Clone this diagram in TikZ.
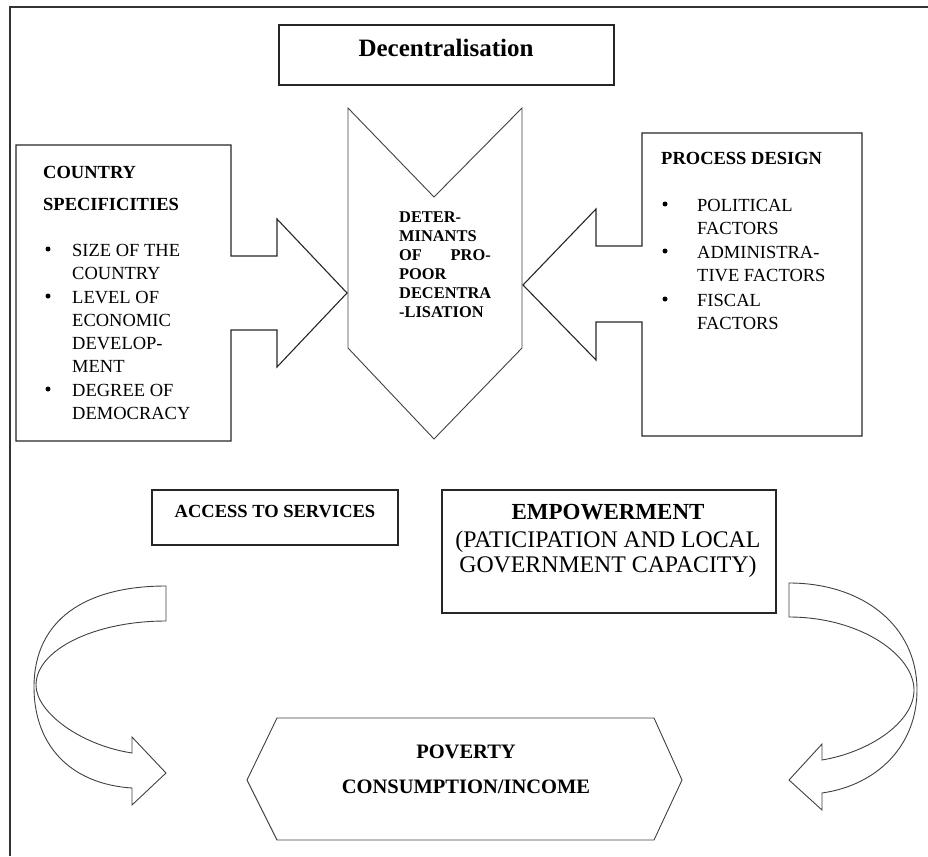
\documentclass[tikz,border=0pt]{standalone}
\usepackage{fontspec}
\setmainfont{Liberation Serif}
\begin{document}
\begin{tikzpicture}[x=1pt,y=-1pt,
  shape line/.style={draw=black!85,line width=1.1pt,line join=miter},
  thin line/.style={draw=black!75,line width=0.9pt},
  txt/.style={inner sep=0pt,anchor=base west},
  ctxt/.style={inner sep=0pt,anchor=base},
  listfont/.style={font=\fontsize{18.5}{23}\selectfont},
  headfont/.style={font=\fontsize{18.5}{23}\selectfont\bfseries},
  midfont/.style={font=\fontsize{16.4}{19}\selectfont\bfseries},
  dot/.style={circle,fill=black,inner sep=0pt,minimum size=5pt}
]
\useasboundingbox (0,0) rectangle (928,856);

% outer frame (top and left edges)
\draw[draw=black!80,line width=1.8pt] (10,856) -- (10,7) -- (928,7);

% title box
\draw[shape line] (279,25) rectangle (614,85);
\node[ctxt,font=\fontsize{25}{30}\selectfont\bfseries] (title) at (446,57) {Decentralisation};

% central downward chevron
\draw[thin line] (348,108) -- (434,197) -- (522,108) -- (522,348) -- (434,439) -- (348,348) -- cycle;
\node[txt,midfont] (m1) at (399,222) {DETER-};
\node[txt,midfont] (m2) at (399,241) {MINANTS};
\node[txt,midfont] (m3) at (399,260) {OF};
\node[ctxt,midfont,anchor=base east] (m3b) at (491,260) {PRO-};
\node[txt,midfont] (m4) at (399,279) {POOR};
\node[txt,midfont] (m5) at (399,298) {DECENTRA};
\node[txt,midfont] (m6) at (399,317) {-LISATION};

% left box with arrow into the chevron
\draw[shape line] (16,145) -- (231,145) -- (231,256) -- (277,256) -- (277,219)
  -- (347,293) -- (277,367) -- (277,330) -- (231,330) -- (231,441) -- (16,441) -- cycle;
\node[txt,headfont] (l0) at (43,178) {COUNTRY};
\node[txt,headfont] (l1) at (43,210) {SPECIFICITIES};
\node[dot] (lb1) at (48,249) {};
\node[txt,listfont] (l2) at (72,256) {SIZE OF THE};
\node[txt,listfont] (l3) at (72,279) {COUNTRY};
\node[dot] (lb2) at (48,296) {};
\node[txt,listfont] (l4) at (72,303) {LEVEL OF};
\node[txt,listfont] (l5) at (72,326) {ECONOMIC};
\node[txt,listfont] (l6) at (72,349) {DEVELOP-};
\node[txt,listfont] (l7) at (72,372) {MENT};
\node[dot] (lb3) at (48,389) {};
\node[txt,listfont] (l8) at (72,396) {DEGREE OF};
\node[txt,listfont] (l9) at (72,419) {DEMOCRACY};

% right box with arrow into the chevron
\draw[shape line] (642,133) -- (862,133) -- (862,436) -- (642,436) -- (642,322)
  -- (596,322) -- (596,360) -- (523,285) -- (596,209) -- (596,246) -- (642,246) -- cycle;
\node[txt,headfont] (r0) at (661,164) {PROCESS DESIGN};
\node[dot] (rb1) at (665,204) {};
\node[txt,listfont] (r1) at (697,211) {POLITICAL};
\node[txt,listfont] (r2) at (697,234) {FACTORS};
\node[dot] (rb2) at (665,251) {};
\node[txt,listfont] (r3) at (697,258) {ADMINISTRA-};
\node[txt,listfont] (r4) at (697,281) {TIVE FACTORS};
\node[dot] (rb3) at (665,299) {};
\node[txt,listfont] (r5) at (697,306) {FISCAL};
\node[txt,listfont] (r6) at (697,329) {FACTORS};

% outcome boxes
\draw[shape line] (152,490) rectangle (398,545);
\node[ctxt,headfont] (acc) at (275,517) {ACCESS TO SERVICES};

\draw[shape line] (442,490) rectangle (776,613);
\node[ctxt,font=\fontsize{23}{27}\selectfont\bfseries] (emp) at (608,519) {EMPOWERMENT};
\node[ctxt,font=\fontsize{23.8}{27}\selectfont] (emp1) at (608,547) {(PATICIPATION AND LOCAL};
\node[ctxt,font=\fontsize{23.8}{27}\selectfont] (emp2) at (608,572) {GOVERNMENT CAPACITY)};

% poverty hexagon
\draw[thin line] (247,780) -- (277,718) -- (654,718) -- (682,780) -- (654,840) -- (277,840) -- cycle;
\node[ctxt,font=\fontsize{20.5}{24}\selectfont\bfseries] (pov) at (466,758) {POVERTY};
\node[ctxt,font=\fontsize{20.5}{24}\selectfont\bfseries] (cons) at (466,793) {CONSUMPTION/INCOME};

% curved block arrow on the left
\draw[thin line] (166,586) -- (166,621)
  .. controls (94,621) and (36,650) .. (36,685)
  .. controls (36,712) and (80,745) .. (132,753)
  -- (132,737) -- (166,773) -- (132,805) -- (132,788)
  .. controls (70,784) and (34,745) .. (34,687)
  .. controls (34,620) and (85,586) .. (166,586) -- cycle;

% curved block arrow on the right
\draw[thin line] (789,583) -- (789,617)
  .. controls (860,617) and (914,655) .. (914,690)
  .. controls (914,722) and (870,752) .. (822,760)
  -- (822,744) -- (789,780) -- (822,810) -- (822,793)
  .. controls (878,785) and (917,745) .. (917,690)
  .. controls (917,625) and (862,583) .. (789,583) -- cycle;
\end{tikzpicture}
\end{document}
